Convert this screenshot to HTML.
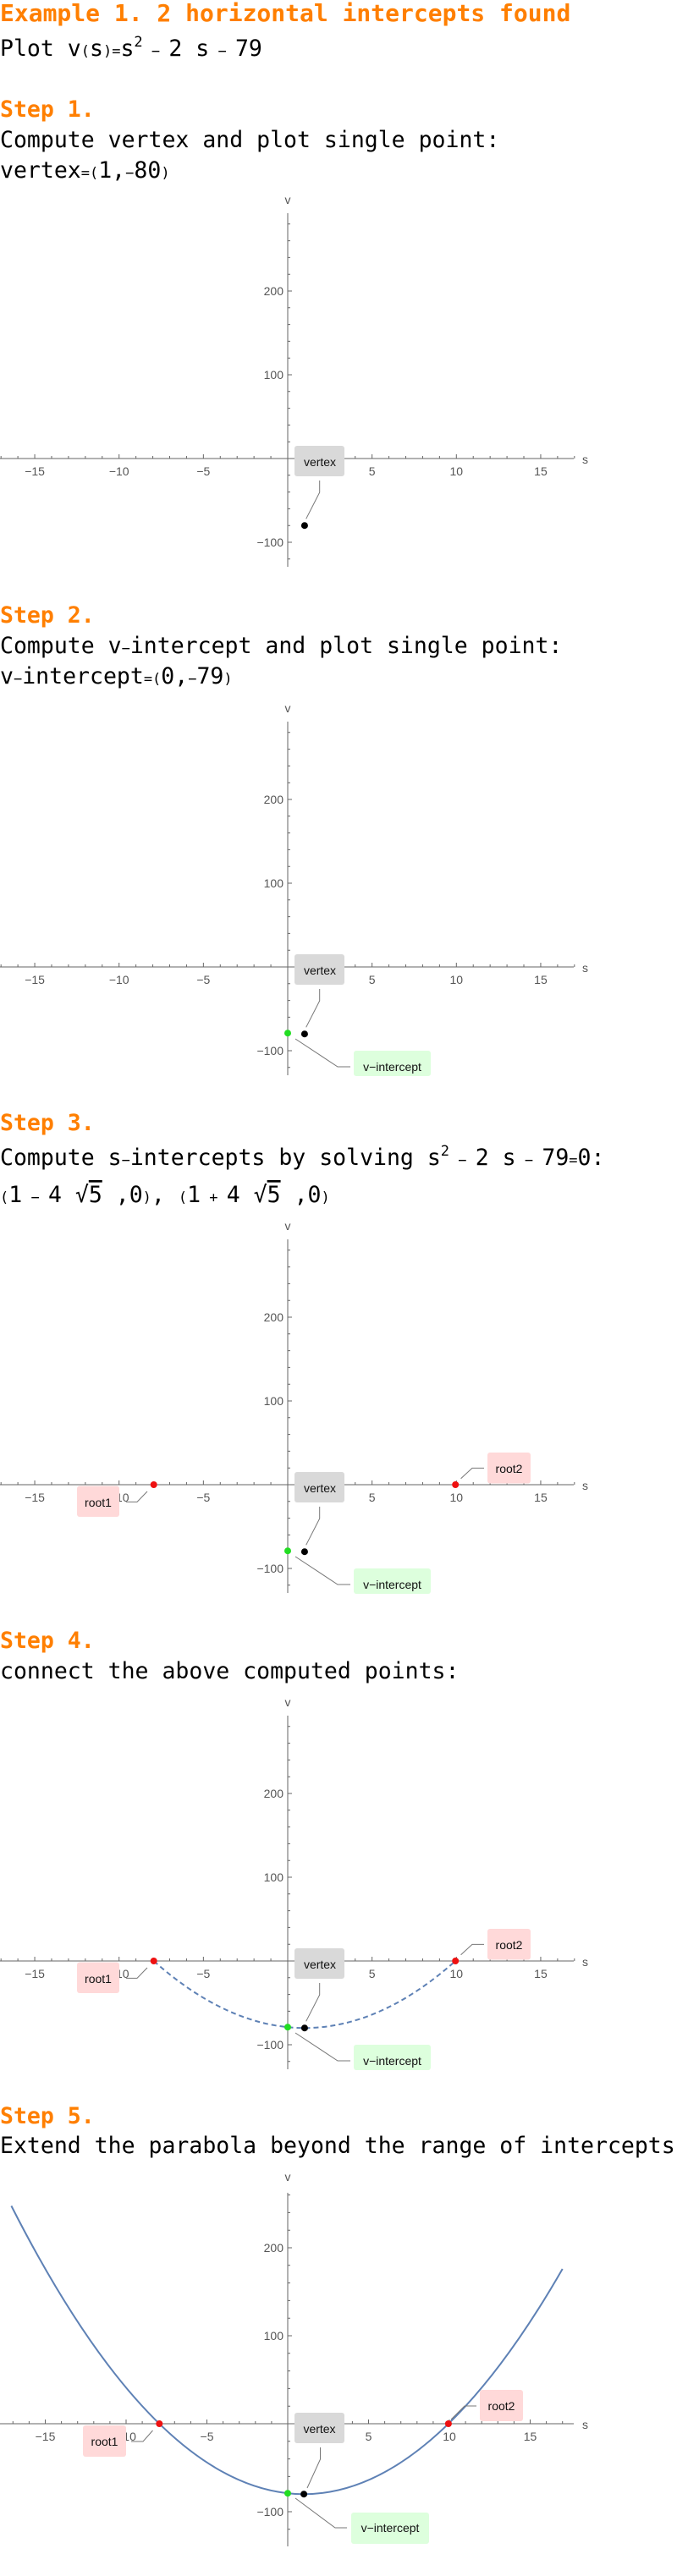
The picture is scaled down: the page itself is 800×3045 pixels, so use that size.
<!DOCTYPE html>
<html><head><meta charset="utf-8">
<style>
html,body{margin:0;padding:0;background:#fff;}
svg{display:block;}
.h{font-family:"DejaVu Sans Mono","Liberation Mono",monospace;font-weight:bold;fill:#ff7f00;}
.t{font-family:"DejaVu Sans Mono","Liberation Mono",monospace;fill:#000;font-size:26.5px;}
.sm{font-size:17px;}
.ax{stroke:#666;stroke-width:1;fill:none;}
.tl{font-family:"Liberation Sans",sans-serif;font-size:14px;fill:#555;}
.lb{font-family:"Liberation Sans",sans-serif;font-size:14px;fill:#111;}
.ld{stroke:#777;stroke-width:1;fill:none;}
</style></head><body>
<svg width="800" height="3045" viewBox="0 0 800 3045" xmlns="http://www.w3.org/2000/svg">

<text class="h" x="0" y="25" font-size="28">Example 1. 2 horizontal intercepts found</text>
<text class="t" x="0" y="66">Plot v<tspan class="sm">(</tspan>s<tspan class="sm">)=</tspan>s<tspan class="sm" dy="-11">2</tspan><tspan class="sm" dy="11"> − </tspan>2 s<tspan class="sm"> − </tspan>79</text>

<text class="h" x="0" y="138" font-size="26.5">Step 1.</text>
<text class="t" x="0" y="174">Compute vertex and plot single point:</text>
<text class="t" x="0" y="210">vertex<tspan class="sm">=(</tspan>1,<tspan class="sm">−</tspan>80<tspan class="sm">)</tspan></text>

<!-- PLOT 1 -->
<g transform="translate(340,542)">
<path class="ax" d="M-340 0H338M0 -290V128"/>
<path class="ax" d="M19.93 0v-3M39.86 0v-3M59.79 0v-3M79.72 0v-3M119.58 0v-3M139.51 0v-3M159.44 0v-3M179.37 0v-3M219.23 0v-3M239.16 0v-3M259.09 0v-3M279.02 0v-3M318.88 0v-3M338.81 0v-3M-19.93 0v-3M-39.86 0v-3M-59.79 0v-3M-79.72 0v-3M-119.58 0v-3M-139.51 0v-3M-159.44 0v-3M-179.37 0v-3M-219.23 0v-3M-239.16 0v-3M-259.09 0v-3M-279.02 0v-3M-318.88 0v-3M-338.81 0v-3M99.65 0v-5M199.3 0v-5M298.95 0v-5M-99.65 0v-5M-199.3 0v-5M-298.95 0v-5M0 -19.8h3M0 -39.6h3M0 -59.4h3M0 -79.2h3M0 -118.8h3M0 -138.6h3M0 -158.4h3M0 -178.2h3M0 -217.8h3M0 -237.6h3M0 -257.4h3M0 -277.2h3M0 19.8h3M0 39.6h3M0 59.4h3M0 79.2h3M0 118.8h3M0 -99h5M0 -198h5M0 99h5"/>
<g class="tl" text-anchor="middle"><text x="-298.95" y="20">−15</text><text x="-199.3" y="20">−10</text><text x="-99.65" y="20">−5</text><text x="99.65" y="20">5</text><text x="199.3" y="20">10</text><text x="298.95" y="20">15</text><text x="0" y="-301">v</text></g>
<g class="tl" text-anchor="end"><text x="-5" y="-193">200</text><text x="-5" y="-94">100</text><text x="-5" y="104">−100</text></g>
<text class="tl" x="348" y="6">s</text>
<rect x="8" y="-15" width="59" height="36" rx="3" fill="#d9d9d9"/>
<text class="lb" x="38" y="9" text-anchor="middle">vertex</text>
<path class="ld" d="M37.7 26V40L21.7 71.3"/>
<circle cx="19.93" cy="79.2" r="4" fill="#000"/>
</g>

<text class="h" x="0" y="736" font-size="26.5">Step 2.</text>
<text class="t" x="0" y="772">Compute v<tspan class="sm">−</tspan>intercept and plot single point:</text>
<text class="t" x="0" y="808">v<tspan class="sm">−</tspan>intercept<tspan class="sm">=(</tspan>0,<tspan class="sm">−</tspan>79<tspan class="sm">)</tspan></text>

<!-- PLOT 2 -->
<g transform="translate(340,1143)">
<path class="ax" d="M-340 0H338M0 -290V128"/>
<path class="ax" d="M19.93 0v-3M39.86 0v-3M59.79 0v-3M79.72 0v-3M119.58 0v-3M139.51 0v-3M159.44 0v-3M179.37 0v-3M219.23 0v-3M239.16 0v-3M259.09 0v-3M279.02 0v-3M318.88 0v-3M338.81 0v-3M-19.93 0v-3M-39.86 0v-3M-59.79 0v-3M-79.72 0v-3M-119.58 0v-3M-139.51 0v-3M-159.44 0v-3M-179.37 0v-3M-219.23 0v-3M-239.16 0v-3M-259.09 0v-3M-279.02 0v-3M-318.88 0v-3M-338.81 0v-3M99.65 0v-5M199.3 0v-5M298.95 0v-5M-99.65 0v-5M-199.3 0v-5M-298.95 0v-5M0 -19.8h3M0 -39.6h3M0 -59.4h3M0 -79.2h3M0 -118.8h3M0 -138.6h3M0 -158.4h3M0 -178.2h3M0 -217.8h3M0 -237.6h3M0 -257.4h3M0 -277.2h3M0 19.8h3M0 39.6h3M0 59.4h3M0 79.2h3M0 118.8h3M0 -99h5M0 -198h5M0 99h5"/>
<g class="tl" text-anchor="middle"><text x="-298.95" y="20">−15</text><text x="-199.3" y="20">−10</text><text x="-99.65" y="20">−5</text><text x="99.65" y="20">5</text><text x="199.3" y="20">10</text><text x="298.95" y="20">15</text><text x="0" y="-301">v</text></g>
<g class="tl" text-anchor="end"><text x="-5" y="-193">200</text><text x="-5" y="-94">100</text><text x="-5" y="104">−100</text></g>
<text class="tl" x="348" y="6">s</text>
<rect x="8" y="-15" width="59" height="36" rx="3" fill="#d9d9d9"/>
<text class="lb" x="38" y="9" text-anchor="middle">vertex</text>
<path class="ld" d="M37.7 26V40L21.7 71.3"/>
<rect x="78" y="99" width="91" height="30" rx="3" fill="#ddffdd"/>
<text class="lb" x="123.5" y="123" text-anchor="middle">v−intercept</text>
<path class="ld" d="M9 85L59 118H74"/>
<circle cx="0" cy="78.2" r="4" fill="#22dd22"/>
<circle cx="19.93" cy="79.2" r="4" fill="#000"/>
</g>

<text class="h" x="0" y="1336" font-size="26.5">Step 3.</text>
<text class="t" x="0" y="1377">Compute s<tspan class="sm">−</tspan>intercepts by solving s<tspan class="sm" dy="-11">2</tspan><tspan class="sm" dy="11"> − </tspan>2 s<tspan class="sm"> − </tspan>79<tspan class="sm">=</tspan>0:</text>
<text class="t" x="0" y="1421"><tspan class="sm">(</tspan>1<tspan class="sm"> − </tspan>4 √<tspan text-decoration="overline">5</tspan> ,0<tspan class="sm">)</tspan>,   <tspan class="sm">(</tspan>1<tspan class="sm"> + </tspan>4 √<tspan text-decoration="overline">5</tspan> ,0<tspan class="sm">)</tspan></text>

<!-- PLOT 3 -->
<g transform="translate(340,1755)">
<path class="ax" d="M-340 0H338M0 -290V128"/>
<path class="ax" d="M19.93 0v-3M39.86 0v-3M59.79 0v-3M79.72 0v-3M119.58 0v-3M139.51 0v-3M159.44 0v-3M179.37 0v-3M219.23 0v-3M239.16 0v-3M259.09 0v-3M279.02 0v-3M318.88 0v-3M338.81 0v-3M-19.93 0v-3M-39.86 0v-3M-59.79 0v-3M-79.72 0v-3M-119.58 0v-3M-139.51 0v-3M-159.44 0v-3M-179.37 0v-3M-219.23 0v-3M-239.16 0v-3M-259.09 0v-3M-279.02 0v-3M-318.88 0v-3M-338.81 0v-3M99.65 0v-5M199.3 0v-5M298.95 0v-5M-99.65 0v-5M-199.3 0v-5M-298.95 0v-5M0 -19.8h3M0 -39.6h3M0 -59.4h3M0 -79.2h3M0 -118.8h3M0 -138.6h3M0 -158.4h3M0 -178.2h3M0 -217.8h3M0 -237.6h3M0 -257.4h3M0 -277.2h3M0 19.8h3M0 39.6h3M0 59.4h3M0 79.2h3M0 118.8h3M0 -99h5M0 -198h5M0 99h5"/>
<g class="tl" text-anchor="middle"><text x="-298.95" y="20">−15</text><text x="-199.3" y="20">−10</text><text x="-99.65" y="20">−5</text><text x="99.65" y="20">5</text><text x="199.3" y="20">10</text><text x="298.95" y="20">15</text><text x="0" y="-301">v</text></g>
<g class="tl" text-anchor="end"><text x="-5" y="-193">200</text><text x="-5" y="-94">100</text><text x="-5" y="104">−100</text></g>
<text class="tl" x="348" y="6">s</text>
<rect x="8" y="-15" width="59" height="36" rx="3" fill="#d9d9d9"/>
<text class="lb" x="38" y="9" text-anchor="middle">vertex</text>
<path class="ld" d="M37.7 26V40L21.7 71.3"/>
<rect x="78" y="99" width="91" height="30" rx="3" fill="#ddffdd"/>
<text class="lb" x="123.5" y="123" text-anchor="middle">v−intercept</text>
<path class="ld" d="M9 85L59 118H74"/>
<rect x="-249" y="1.5" width="50" height="36.5" rx="3" fill="#ffd9d9"/>
<text class="lb" x="-224" y="26" text-anchor="middle">root1</text>
<path class="ld" d="M-166 8L-178 20.4H-191"/>
<rect x="236" y="-38" width="51" height="36.5" rx="3" fill="#ffd9d9"/>
<text class="lb" x="261.5" y="-14" text-anchor="middle">root2</text>
<path class="ld" d="M204.6 -7.3L218 -19.6H232"/>
<circle cx="0" cy="78.2" r="4" fill="#22dd22"/>
<circle cx="19.93" cy="79.2" r="4" fill="#000"/>
<circle cx="-158.3" cy="0" r="4" fill="#ee1111"/>
<circle cx="198.2" cy="0" r="4" fill="#ee1111"/>
</g>

<text class="h" x="0" y="1948" font-size="26.5">Step 4.</text>
<text class="t" x="0" y="1984">connect the above computed points:</text>

<!-- PLOT 4 -->
<g transform="translate(340,2318)">
<path class="ax" d="M-340 0H338M0 -290V128"/>
<path class="ax" d="M19.93 0v-3M39.86 0v-3M59.79 0v-3M79.72 0v-3M119.58 0v-3M139.51 0v-3M159.44 0v-3M179.37 0v-3M219.23 0v-3M239.16 0v-3M259.09 0v-3M279.02 0v-3M318.88 0v-3M338.81 0v-3M-19.93 0v-3M-39.86 0v-3M-59.79 0v-3M-79.72 0v-3M-119.58 0v-3M-139.51 0v-3M-159.44 0v-3M-179.37 0v-3M-219.23 0v-3M-239.16 0v-3M-259.09 0v-3M-279.02 0v-3M-318.88 0v-3M-338.81 0v-3M99.65 0v-5M199.3 0v-5M298.95 0v-5M-99.65 0v-5M-199.3 0v-5M-298.95 0v-5M0 -19.8h3M0 -39.6h3M0 -59.4h3M0 -79.2h3M0 -118.8h3M0 -138.6h3M0 -158.4h3M0 -178.2h3M0 -217.8h3M0 -237.6h3M0 -257.4h3M0 -277.2h3M0 19.8h3M0 39.6h3M0 59.4h3M0 79.2h3M0 118.8h3M0 -99h5M0 -198h5M0 99h5"/>
<g class="tl" text-anchor="middle"><text x="-298.95" y="20">−15</text><text x="-199.3" y="20">−10</text><text x="-99.65" y="20">−5</text><text x="99.65" y="20">5</text><text x="199.3" y="20">10</text><text x="298.95" y="20">15</text><text x="0" y="-301">v</text></g>
<g class="tl" text-anchor="end"><text x="-5" y="-193">200</text><text x="-5" y="-94">100</text><text x="-5" y="104">−100</text></g>
<text class="tl" x="348" y="6">s</text>
<path d="M-158.3 0Q19.93 158.4 198.2 0" fill="none" stroke="#5e81b5" stroke-width="2" stroke-dasharray="6 4"/>
<rect x="8" y="-15" width="59" height="36" rx="3" fill="#d9d9d9"/>
<text class="lb" x="38" y="9" text-anchor="middle">vertex</text>
<path class="ld" d="M37.7 26V40L21.7 71.3"/>
<rect x="78" y="99" width="91" height="30" rx="3" fill="#ddffdd"/>
<text class="lb" x="123.5" y="123" text-anchor="middle">v−intercept</text>
<path class="ld" d="M9 85L59 118H74"/>
<rect x="-249" y="1.5" width="50" height="36.5" rx="3" fill="#ffd9d9"/>
<text class="lb" x="-224" y="26" text-anchor="middle">root1</text>
<path class="ld" d="M-166 8L-178 20.4H-191"/>
<rect x="236" y="-38" width="51" height="36.5" rx="3" fill="#ffd9d9"/>
<text class="lb" x="261.5" y="-14" text-anchor="middle">root2</text>
<path class="ld" d="M204.6 -7.3L218 -19.6H232"/>
<circle cx="0" cy="78.2" r="4" fill="#22dd22"/>
<circle cx="19.93" cy="79.2" r="4" fill="#000"/>
<circle cx="-158.3" cy="0" r="4" fill="#ee1111"/>
<circle cx="198.2" cy="0" r="4" fill="#ee1111"/>
</g>

<text class="h" x="0" y="2510" font-size="26.5">Step 5.</text>
<text class="t" x="0" y="2545">Extend the parabola beyond the range of intercepts</text>

<!-- PLOT 5 -->
<g transform="translate(340,2865)">
<path class="ax" d="M-340 0H338M0 -273V145"/>
<path class="ax" d="M19.1 0v-3M38.2 0v-3M57.3 0v-3M76.4 0v-3M114.6 0v-3M133.7 0v-3M152.8 0v-3M171.9 0v-3M210.1 0v-3M229.2 0v-3M248.3 0v-3M267.4 0v-3M305.6 0v-3M324.7 0v-3M-19.1 0v-3M-38.2 0v-3M-57.3 0v-3M-76.4 0v-3M-114.6 0v-3M-133.7 0v-3M-152.8 0v-3M-171.9 0v-3M-210.1 0v-3M-229.2 0v-3M-248.3 0v-3M-267.4 0v-3M-305.6 0v-3M-324.7 0v-3M95.5 0v-5M191 0v-5M286.5 0v-5M-95.5 0v-5M-191 0v-5M-286.5 0v-5M0 -20.8h3M0 -41.6h3M0 -62.4h3M0 -83.2h3M0 -124.8h3M0 -145.6h3M0 -166.4h3M0 -187.2h3M0 -228.8h3M0 -249.6h3M0 -270.4h3M0 20.8h3M0 41.6h3M0 62.4h3M0 83.2h3M0 124.8h3M0 -104h5M0 -208h5M0 104h5"/>
<g class="tl" text-anchor="middle"><text x="-286.5" y="20">−15</text><text x="-191" y="20">−10</text><text x="-95.5" y="20">−5</text><text x="95.5" y="20">5</text><text x="191" y="20">10</text><text x="286.5" y="20">15</text><text x="0" y="-287">v</text></g>
<g class="tl" text-anchor="end"><text x="-5" y="-203">200</text><text x="-5" y="-99">100</text><text x="-5" y="109">−100</text></g>
<text class="tl" x="348" y="6">s</text>
<path d="M-326.6 -257.5Q-0.955 384.4 324.7 -183" fill="none" stroke="#5e81b5" stroke-width="2"/>
<rect x="8" y="-13" width="59" height="36" rx="3" fill="#d9d9d9"/>
<text class="lb" x="37.5" y="11" text-anchor="middle">vertex</text>
<path class="ld" d="M38.5 28V42L23 76"/>
<rect x="75" y="105" width="92" height="37" rx="3" fill="#ddffdd"/>
<text class="lb" x="121" y="128" text-anchor="middle">v−intercept</text>
<path class="ld" d="M9 88L56 123H70"/>
<rect x="-242" y="2" width="51" height="37" rx="3" fill="#ffd9d9"/>
<text class="lb" x="-216.5" y="26" text-anchor="middle">root1</text>
<path class="ld" d="M-159.5 8L-171 21H-185"/>
<rect x="227" y="-40" width="51" height="37" rx="3" fill="#ffd9d9"/>
<text class="lb" x="252.5" y="-16" text-anchor="middle">root2</text>
<path class="ld" d="M193 -5L209 -21H223"/>
<circle cx="0" cy="82.2" r="4" fill="#22dd22"/>
<circle cx="19.1" cy="83.2" r="4" fill="#000"/>
<circle cx="-151.7" cy="0" r="4" fill="#ee1111"/>
<circle cx="189.9" cy="0" r="4" fill="#ee1111"/>
</g>
</svg>
</body></html>
